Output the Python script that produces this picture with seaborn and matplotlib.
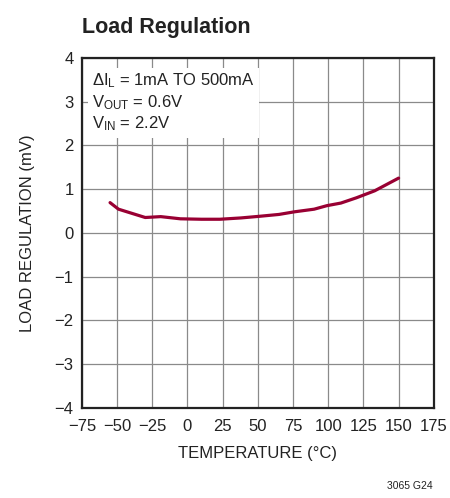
import matplotlib
matplotlib.use('Agg')
import matplotlib.pyplot as plt
import seaborn as sns
import pandas as pd

# curve
temperature = [-55, -49, -41, -30, -19, -5, 10, 23, 38, 52, 65, 76, 90, 99, 109, 120, 133, 150]
load_reg_mv = [0.69, 0.54, 0.46, 0.35, 0.37, 0.32, 0.31, 0.31, 0.34, 0.38, 0.42, 0.48, 0.54, 0.62, 0.68, 0.80, 0.96, 1.25]

x_ticks = [-75, -50, -25, 0, 25, 50, 75, 100, 125, 150, 175]
y_ticks = [-4, -3, -2, -1, 0, 1, 2, 3, 4]
y_ticklabels = ['\u22124', '\u22123', '\u22122', '\u22121', '0', '1', '2', '3', '4']
x_ticklabels = [str(t).replace('-', '\u2212') for t in x_ticks]

df = pd.DataFrame({'temp': temperature, 'mv': load_reg_mv})

sns.set_theme(style='white')
plt.rcParams['font.family'] = ['Liberation Sans Narrow', 'Liberation Sans', 'DejaVu Sans']
plt.rcParams['mathtext.default'] = 'regular'

fig = plt.figure(figsize=(4.5, 4.98), dpi=100)
ax = fig.add_axes([0.182, 0.181, 0.782, 0.703])

sns.lineplot(data=df, x='temp', y='mv', ax=ax, color='#990033', linewidth=2.3, zorder=5)

ax.set_xlim(-75, 175)
ax.set_ylim(-4, 4)
ax.set_xticks(x_ticks)
ax.set_xticklabels(x_ticklabels)
ax.set_yticks(y_ticks)
ax.set_yticklabels(y_ticklabels)
ax.tick_params(axis='both', length=0, labelsize=12, pad=6, colors='#222222')
ax.tick_params(axis='x', pad=8)
ax.grid(True, color='#8a8a8a', linewidth=0.9)
for s in ax.spines.values():
    s.set_color('#222222')
    s.set_linewidth(1.6)

ax.set_xlabel('TEMPERATURE (\u00b0C)', fontsize=12, color='#222222', labelpad=9)
ax.set_ylabel('LOAD REGULATION (mV)', fontsize=12, color='#222222', labelpad=14)

ax.text(-68, 3.68, '$\\Delta I_L$ = 1mA TO 500mA\n$V_{OUT}$ = 0.6V\n$V_{IN}$ = 2.2V',
        fontsize=12, color='#222222', va='top', ha='left', linespacing=1.2,
        bbox=dict(facecolor='white', edgecolor='none', pad=3), zorder=4)

fig.text(0.182, 0.945, 'Load Regulation', fontsize=15.5, fontweight='bold',
         color='#222222', ha='left', va='center')
fig.text(0.962, 0.025, '3065 G24', fontsize=7.5, color='#222222', ha='right', va='center')

plt.savefig('out.png', dpi=100)
plt.close()
